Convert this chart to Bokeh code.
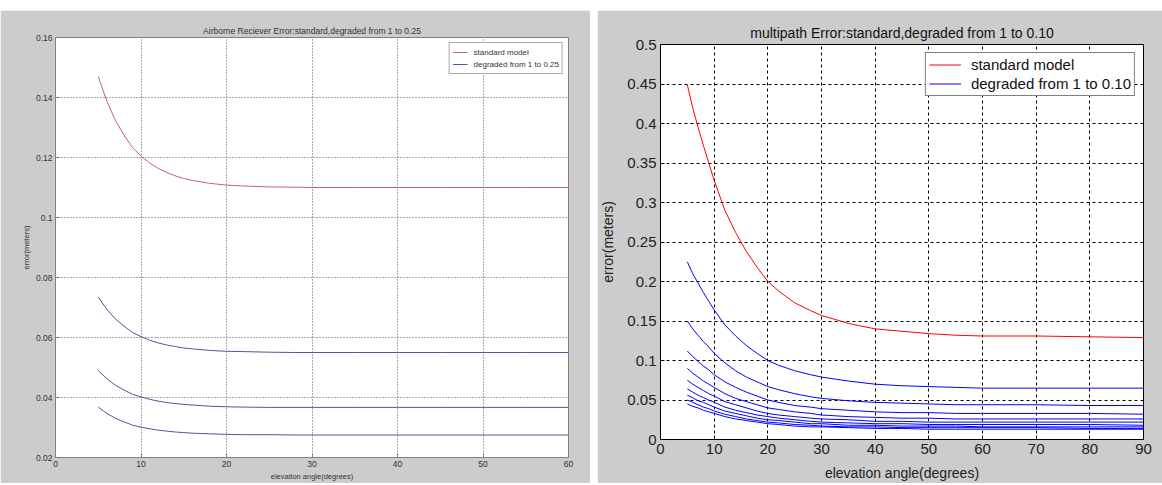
from bokeh.plotting import figure
from bokeh.models import FixedTicker, Range1d
from bokeh.layouts import row, column
from bokeh.embed import file_html
from bokeh.resources import INLINE

# ---------------- left panel data (Airborne receiver error) ----------------
left_title = "Airborne Reciever Error:standard,degraded from 1 to 0.25"
left_x = [5, 6, 7, 8, 9, 10, 11, 12, 13, 14, 15, 16, 18, 20, 22, 25, 28, 30, 35, 40, 45, 50, 55, 60]
left_standard = [0.147, 0.1388, 0.1324, 0.1275, 0.1233, 0.1205, 0.1182, 0.1164, 0.1150, 0.1139,
                 0.1130, 0.1124, 0.1114, 0.1108, 0.1105, 0.1102, 0.1101, 0.1100, 0.1100, 0.1100,
                 0.1100, 0.1100, 0.1100, 0.1100]
left_deg_a = [0.0735, 0.0694, 0.0662, 0.0638, 0.0617, 0.0603, 0.0591, 0.0582, 0.0575, 0.0570,
              0.0565, 0.0562, 0.0557, 0.0554, 0.0553, 0.0551, 0.0550, 0.0550, 0.0550, 0.0550,
              0.0550, 0.0550, 0.0550, 0.0550]
left_deg_b = [0.0490, 0.0463, 0.0441, 0.0425, 0.0411, 0.0402, 0.0394, 0.0388, 0.0383, 0.0380,
              0.0377, 0.0375, 0.0371, 0.0369, 0.0368, 0.0367, 0.0367, 0.0367, 0.0367, 0.0367,
              0.0367, 0.0367, 0.0367, 0.0367]
left_deg_c = [0.0368, 0.0347, 0.0331, 0.0319, 0.0308, 0.0301, 0.0296, 0.0291, 0.0288, 0.0285,
              0.0283, 0.0281, 0.0279, 0.0277, 0.0276, 0.0276, 0.0275, 0.0275, 0.0275, 0.0275,
              0.0275, 0.0275, 0.0275, 0.0275]
left_xticks = [0, 10, 20, 30, 40, 50, 60]
left_xlabels = ["0", "10", "20", "30", "40", "50", "60"]
left_yticks = [0.02, 0.04, 0.06, 0.08, 0.1, 0.12, 0.14, 0.16]
left_ylabels = ["0.02", "0.04", "0.06", "0.08", "0.1", "0.12", "0.14", "0.16"]
left_legend = ["standard model", "degraded from 1 to 0.25"]

# ---------------- right panel data (multipath error) ----------------
right_title = "multipath Error:standard,degraded from 1 to 0.10"
right_x = [5, 6, 7, 8, 9, 10, 12, 14, 16, 18, 20, 22, 25, 28, 30, 35, 40, 45, 50, 55, 60, 70, 80, 90]
right_standard = [0.449, 0.420, 0.395, 0.372, 0.350, 0.328, 0.290, 0.262, 0.238, 0.218, 0.200, 0.188,
                  0.173, 0.163, 0.157, 0.147, 0.140, 0.137, 0.134, 0.132, 0.131, 0.131, 0.130, 0.129]
right_deg_2 = [0.225, 0.210, 0.198, 0.186, 0.175, 0.164, 0.145, 0.131, 0.119, 0.109, 0.100, 0.094,
               0.087, 0.082, 0.079, 0.074, 0.070, 0.068, 0.067, 0.066, 0.065, 0.065, 0.065, 0.065]
right_deg_3 = [0.150, 0.140, 0.132, 0.124, 0.117, 0.109, 0.097, 0.087, 0.079, 0.073, 0.067, 0.063,
               0.058, 0.054, 0.052, 0.049, 0.047, 0.046, 0.045, 0.044, 0.044, 0.044, 0.043, 0.043]
right_deg_4 = [0.112, 0.105, 0.099, 0.093, 0.088, 0.082, 0.073, 0.066, 0.060, 0.055, 0.050, 0.047,
               0.043, 0.041, 0.039, 0.037, 0.035, 0.034, 0.034, 0.033, 0.033, 0.033, 0.033, 0.032]
right_deg_5 = [0.090, 0.084, 0.079, 0.074, 0.070, 0.066, 0.058, 0.052, 0.048, 0.044, 0.040, 0.038,
               0.035, 0.033, 0.031, 0.029, 0.028, 0.027, 0.027, 0.026, 0.026, 0.026, 0.026, 0.026]
right_deg_6 = [0.075, 0.070, 0.066, 0.062, 0.058, 0.055, 0.048, 0.044, 0.040, 0.036, 0.033, 0.031,
               0.029, 0.027, 0.026, 0.025, 0.023, 0.023, 0.022, 0.022, 0.022, 0.022, 0.022, 0.022]
right_deg_7 = [0.064, 0.060, 0.056, 0.053, 0.050, 0.047, 0.041, 0.037, 0.034, 0.031, 0.029, 0.027,
               0.025, 0.023, 0.022, 0.021, 0.020, 0.020, 0.019, 0.019, 0.019, 0.019, 0.019, 0.018]
right_deg_8 = [0.056, 0.053, 0.049, 0.047, 0.044, 0.041, 0.036, 0.033, 0.030, 0.027, 0.025, 0.024,
               0.022, 0.020, 0.020, 0.018, 0.018, 0.017, 0.017, 0.017, 0.016, 0.016, 0.016, 0.016]
right_deg_9 = [0.050, 0.047, 0.044, 0.041, 0.039, 0.036, 0.032, 0.029, 0.026, 0.024, 0.022, 0.021,
               0.019, 0.018, 0.017, 0.016, 0.016, 0.015, 0.015, 0.015, 0.015, 0.015, 0.014, 0.014]
right_deg_10 = [0.045, 0.042, 0.040, 0.037, 0.035, 0.033, 0.029, 0.026, 0.024, 0.022, 0.020, 0.019,
                0.017, 0.016, 0.016, 0.015, 0.014, 0.014, 0.013, 0.013, 0.013, 0.013, 0.013, 0.013]
right_xticks = [0, 10, 20, 30, 40, 50, 60, 70, 80, 90]
right_xlabels = ["0", "10", "20", "30", "40", "50", "60", "70", "80", "90"]
right_yticks = [0, 0.05, 0.1, 0.15, 0.2, 0.25, 0.3, 0.35, 0.4, 0.45, 0.5]
right_ylabels = ["0", "0.05", "0.1", "0.15", "0.2", "0.25", "0.3", "0.35", "0.4", "0.45", "0.5"]
right_legend = ["standard model", "degraded from 1 to 0.10"]

x_label = "elevation angle(degrees)"
y_label = "error(meters)"

GRAY = "#cccccc"


def style_axes(p, xticks, xlabels, yticks, ylabels, font, tick_size, label_size,
               axis_color, text_color, label_standoff, axis_label_standoff):
    p.xaxis.ticker = FixedTicker(ticks=xticks)
    p.yaxis.ticker = FixedTicker(ticks=yticks)
    p.xaxis.major_label_overrides = dict(zip(xticks, xlabels))
    p.yaxis.major_label_overrides = dict(zip(yticks, ylabels))
    for ax in (p.xaxis[0], p.yaxis[0]):
        ax.major_tick_in = 4
        ax.major_tick_out = 0
        ax.minor_tick_line_color = None
        ax.axis_line_color = axis_color
        ax.major_tick_line_color = axis_color
        ax.major_label_text_font = font
        ax.major_label_text_font_size = tick_size
        ax.major_label_text_color = text_color
        ax.axis_label_text_font = font
        ax.axis_label_text_font_size = label_size
        ax.axis_label_text_font_style = "normal"
        ax.axis_label_text_color = text_color
        ax.major_label_standoff = label_standoff
        ax.axis_label_standoff = axis_label_standoff
    p.xaxis.axis_label = x_label
    p.yaxis.axis_label = y_label


def no_frame_align(p):
    try:
        p.frame_align = False
    except Exception:
        pass


# ---------------- left figure ----------------
p1 = figure(width=590, height=473, x_range=Range1d(0, 60), y_range=Range1d(0.02, 0.16),
            output_backend="svg", toolbar_location=None,
            min_border_left=55, min_border_right=22, min_border_top=27, min_border_bottom=26,
            background_fill_color="white", border_fill_color=GRAY,
            outline_line_color="#808080", margin=(10, 0, 0, 0))
no_frame_align(p1)
p1.title.text = left_title
p1.title.text_font = "Liberation Sans"
p1.title.text_font_size = "8.5px"
p1.title.text_font_style = "normal"
p1.title.text_color = "#333333"
p1.title.align = "center"
p1.title.standoff = 4
style_axes(p1, left_xticks, left_xlabels, left_yticks, left_ylabels, "Liberation Sans",
           "8.5px", "7.5px", "#808080", "#333333", 3, 2)
for g in (p1.xgrid[0], p1.ygrid[0]):
    g.grid_line_color = "#555555"
    g.grid_line_dash = "1 2"
    g.grid_line_width = 1

p1.line(left_x, left_standard, line_color="#c06470", line_width=1, legend_label=left_legend[0])
p1.multi_line([left_x, left_x, left_x], [left_deg_a, left_deg_b, left_deg_c],
              line_color="#55559a", line_width=1, legend_label=left_legend[1])
lg1 = p1.legend[0]
lg1.location = "top_right"
lg1.margin = 5
lg1.padding = 3
lg1.spacing = 0
lg1.glyph_width = 15
lg1.glyph_height = 12
lg1.label_height = 12
lg1.label_standoff = 6
lg1.label_text_font = "Liberation Sans"
lg1.label_text_font_size = "8px"
lg1.label_text_color = "#333333"
lg1.border_line_color = "#555555"
lg1.border_line_width = 1
lg1.background_fill_color = "white"
lg1.background_fill_alpha = 1.0

# ---------------- right figure ----------------
p2 = figure(width=565, height=473, x_range=Range1d(0, 90), y_range=Range1d(0, 0.5),
            output_backend="svg", toolbar_location=None,
            min_border_left=61, min_border_right=19, min_border_top=34, min_border_bottom=42,
            background_fill_color="white", border_fill_color=GRAY,
            outline_line_color="black", margin=(10, 0, 0, 0))
no_frame_align(p2)
p2.title.text = right_title
p2.title.text_font = "Liberation Sans"
p2.title.text_font_size = "14px"
p2.title.text_font_style = "normal"
p2.title.text_color = "#111111"
p2.title.align = "center"
p2.title.standoff = 7
style_axes(p2, right_xticks, right_xlabels, right_yticks, right_ylabels, "Liberation Sans",
           "15px", "14px", "black", "#222222", 4, 8)
for g in (p2.xgrid[0], p2.ygrid[0]):
    g.grid_line_color = "black"
    g.grid_line_dash = "3 3"
    g.grid_line_width = 1

p2.line(right_x, right_standard, line_color="#ff0000", line_width=1, legend_label=right_legend[0])
blues = [right_deg_2, right_deg_3, right_deg_4, right_deg_5, right_deg_6,
         right_deg_7, right_deg_8, right_deg_9, right_deg_10]
p2.multi_line([right_x] * len(blues), blues, line_color="#0000ff", line_width=1,
              legend_label=right_legend[1])
lg2 = p2.legend[0]
lg2.location = "top_right"
lg2.margin = 8
lg2.padding = 3
lg2.spacing = 2
lg2.glyph_width = 32
lg2.glyph_height = 17
lg2.label_height = 17
lg2.label_standoff = 10
lg2.label_text_font = "Liberation Sans"
lg2.label_text_font_size = "15px"
lg2.label_text_color = "#111111"
lg2.border_line_color = "black"
lg2.border_line_width = 1
lg2.background_fill_color = "white"
lg2.background_fill_alpha = 1.0

layout = row(column(p1), column(p2), spacing=7)
open("out.html", "w").write(file_html(layout, INLINE))
